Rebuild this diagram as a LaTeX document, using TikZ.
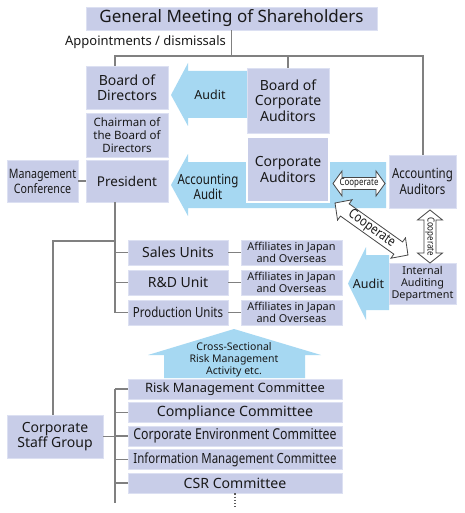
\documentclass[tikz,border=0pt]{standalone}
\usepackage{fontspec}
\setmainfont{Noto Sans}
\newfontfamily\condfont[FakeStretch=0.82]{Noto Sans}
\newcommand\myfs[2]{\fontsize{#1}{#2}\selectfont}
\definecolor{boxfill}{RGB}{200,205,232}
\definecolor{boxline}{RGB}{220,224,242}
\definecolor{arrowblue}{RGB}{166,216,242}
\definecolor{linegray}{RGB}{128,128,128}
\definecolor{txt}{RGB}{25,25,25}
\definecolor{coopline}{RGB}{70,70,70}
\begin{document}
\begin{tikzpicture}[x=1pt,y=-1pt,
  box/.style={draw=boxline, fill=boxfill, line width=0.8pt, inner sep=0pt, align=center, text=txt},
  conn/.style={draw=linegray, line width=1.3pt},
  bluearrow/.style={fill=arrowblue},
  lbl/.style={inner sep=0pt, align=center, text=txt},
  coop/.style={fill=white, draw=coopline, line width=0.8pt, line join=miter},
]
\useasboundingbox[fill=white] (0,0) rectangle (464,513);

% blue block arrows
\fill[bluearrow] (247,71) -- (188,71) -- (188,63) -- (171,95) -- (188,126) -- (188,118) -- (247,118) -- cycle;
\fill[bluearrow] (386,162) -- (188,162) -- (188,154) -- (171,185) -- (188,216) -- (188,208) -- (386,208) -- cycle;
\fill[bluearrow] (389,255) -- (366,255) -- (366,247) -- (348,283.5) -- (366,320) -- (366,310) -- (389,310) -- cycle;
\fill[bluearrow] (164,378) -- (164,355) -- (148,355) -- (234,329) -- (321,355) -- (305,355) -- (305,378) -- cycle;

% boxes
\node[box, minimum width=291, minimum height=23, font=\myfs{17}{20}] (gm) at (231.5,18.5) {General Meeting of Shareholders};
\node[lbl, font=\myfs{13}{15}] (appt) at (145.5,42) {Appointments / dismissals};
\node[box, minimum width=82, minimum height=43, font=\myfs{14}{15.5}] (bod) at (127,87.5) {Board of\\Directors};
\node[box, minimum width=82, minimum height=44, font=\myfs{11.5}{13}] (chair) at (127,135) {Chairman of\\the Board of\\Directors};
\node[box, minimum width=82, minimum height=42, font=\myfs{13.5}{15}] (pres) at (127,181) {President};
\node[box, minimum width=71, minimum height=42, font=\condfont\myfs{13}{15}] (mc) at (42.5,181) {Management\\Conference};
\node[box, minimum width=82, minimum height=65, font=\myfs{14}{15.5}] (bca) at (288,100.5) {Board of\\Corporate\\Auditors};
\node[box, draw=white, line width=1.5pt, minimum width=82, minimum height=65, font=\myfs{14}{15.5}] (ca) at (288,169.5) {Corporate\\Auditors};
\node[box, minimum width=67, minimum height=53, font=\condfont\myfs{14}{16.5}] (aa) at (422.5,181.5) {Accounting\\Auditors};
\node[box, minimum width=67, minimum height=41, font=\myfs{10.8}{12}] (iad) at (422.5,283.5) {Internal\\Auditing\\Department};

\node[box, minimum width=100, minimum height=25, font=\myfs{14}{15}] (sales) at (178,252.5) {Sales Units};
\node[box, minimum width=100, minimum height=25, font=\myfs{14}{15}] (rd) at (178,282.5) {R\&D Unit};
\node[box, minimum width=100, minimum height=25, font=\condfont\myfs{14}{15}] (prod) at (178,312.5) {Production Units};
\node[box, minimum width=101, minimum height=25, font=\myfs{10.9}{10.7}] (aff1) at (291.5,252.5) {Affiliates in Japan\\and Overseas};
\node[box, minimum width=101, minimum height=25, font=\myfs{10.9}{10.7}] (aff2) at (291.5,282.5) {Affiliates in Japan\\and Overseas};
\node[box, minimum width=101, minimum height=25, font=\myfs{10.9}{10.7}] (aff3) at (291.5,312.5) {Affiliates in Japan\\and Overseas};

\node[box, minimum width=96, minimum height=43, font=\myfs{14}{15}] (csg) at (55,436.5) {Corporate\\Staff Group};
\node[box, minimum width=214, minimum height=20, font=\myfs{12.9}{14}] (risk) at (235,389) {Risk Management Committee};
\node[box, minimum width=214, minimum height=20, font=\myfs{14.2}{15}] (comp) at (235,412.5) {Compliance Committee};
\node[box, minimum width=214, minimum height=20, font=\condfont\myfs{15}{15}] (env) at (235,436) {Corporate Environment Committee};
\node[box, minimum width=214, minimum height=20, font=\condfont\myfs{14}{15}] (info) at (235,459.5) {Information Management Committee};
\node[box, minimum width=214, minimum height=20, font=\myfs{14.1}{15}] (csr) at (235,483) {CSR Committee};

% labels on block arrows
\node[lbl, font=\myfs{12.5}{14}] (auditA) at (210,95) {Audit};
\node[lbl, font=\condfont\myfs{14}{13}] (accaudit) at (208,186.5) {Accounting\\Audit};
\node[lbl, font=\myfs{12.5}{14}] (auditB) at (368.5,283.5) {Audit};
\node[lbl, font=\myfs{10.5}{12}] (cross) at (234,359.5) {Cross-Sectional\\Risk Management\\Activity etc.};

% connectors
\coordinate (vx) at (115,0);
\coordinate (sx) at (53,0);
\coordinate (jr) at (423,56);
\coordinate (k) at (115,241);
\coordinate (cb) at (115,503);
\draw[conn] (gm.south) -- (gm.south |- jr);
\draw[conn] (bod.north -| vx) |- (jr) -- (jr |- aa.north);
\draw[conn] (bca.north) -- (bca.north |- jr);
\draw[conn] (mc.east) -- (pres.west);
\draw[conn] (pres.south -| vx) |- (prod.west);
\draw[conn] (sales.west -| vx) -- (sales.west);
\draw[conn] (rd.west -| vx) -- (rd.west);
\draw[conn] (k) -| (csg.north -| sx);
\draw[conn] (sales.east) -- (aff1.west);
\draw[conn] (rd.east) -- (aff2.west);
\draw[conn] (prod.east) -- (aff3.west);
\draw[conn] (risk.west -| vx) -- (cb);
\foreach \c in {risk,comp,env,info,csr} {\draw[conn] (\c.west -| vx) -- (\c.west);}
\draw[conn] (csg.east) -- (csg.east -| vx);
\draw[draw=linegray!70!black, line width=1.3pt, dash pattern=on 1.3pt off 1.9pt] (csr.south) -- ++(0,13);

% cooperate double arrows
\begin{scope}[shift={(359,183.5)}]
  \filldraw[coop] (-26,0) -- (-17,-12.5) -- (-17,-6) -- (17,-6) -- (17,-12.5) -- (26,0) -- (17,12.5) -- (17,6) -- (-17,6) -- (-17,12.5) -- cycle;
  \node[lbl, font=\condfont\myfs{9.7}{10}] (coop1) at (0,0) {Cooperate};
\end{scope}
\begin{scope}[shift={(430,236.5)}, rotate=-90]
  \filldraw[coop] (-26.5,0) -- (-16.5,-12.5) -- (-16.5,-6) -- (16.5,-6) -- (16.5,-12.5) -- (26.5,0) -- (16.5,12.5) -- (16.5,6) -- (-16.5,6) -- (-16.5,12.5) -- cycle;
  \node[lbl, rotate=-90, font=\condfont\myfs{9.7}{10}] (coop2) at (0,0) {Cooperate};
\end{scope}
\begin{scope}[shift={(371.5,229)}, rotate=-35.5]
  \filldraw[coop] (-44.8,0) -- (-32.8,-12.5) -- (-32.8,-7.5) -- (32.8,-7.5) -- (32.8,-12.5) -- (44.8,0) -- (32.8,12.5) -- (32.8,7.5) -- (-32.8,7.5) -- (-32.8,12.5) -- cycle;
  \node[lbl, rotate=-35.5, font=\condfont\myfs{13.5}{14}] (coop3) at (0,0) {Cooperate};
\end{scope}
\end{tikzpicture}
\end{document}
